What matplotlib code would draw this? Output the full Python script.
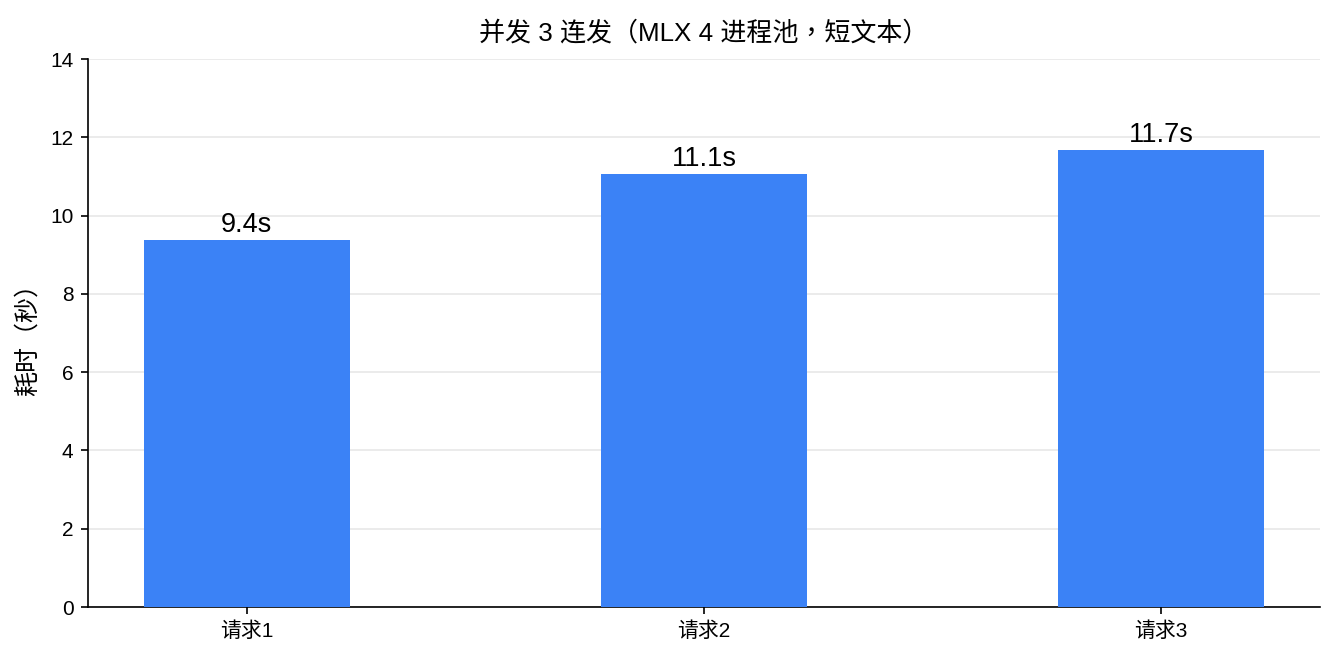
import matplotlib
matplotlib.use('Agg')
import matplotlib.pyplot as plt

plt.rcParams['font.family'] = ['Liberation Sans', 'Noto Sans CJK TC', 'DejaVu Sans']

categories = ['请求1', '请求2', '请求3']
durations = [9.38, 11.06, 11.68]
yticks = [0, 2, 4, 6, 8, 10, 12, 14]

fig, ax = plt.subplots(figsize=(8.9, 4.4), dpi=150)
fig.subplots_adjust(left=0.0659, right=0.9888, top=0.9106, bottom=0.0803)

bars = ax.bar(categories, durations, width=0.45, color='#3b82f6', zorder=3)
ax.bar_label(bars, labels=[f'{v:.1f}s' for v in durations], padding=1, fontsize=13)

ax.set_ylim(0, 14)
ax.set_yticks(yticks)
ax.set_ylabel('耗时（秒）', fontsize=12, labelpad=5)
ax.set_title('并发 3 连发（MLX 4 进程池，短文本）', fontsize=12.5, pad=9)
ax.tick_params(labelsize=10)
ax.grid(axis='y', color='#e8e8e8', linewidth=0.8, zorder=0)
ax.spines['top'].set_visible(False)
ax.spines['right'].set_visible(False)

fig.savefig('out.png', dpi=150)
